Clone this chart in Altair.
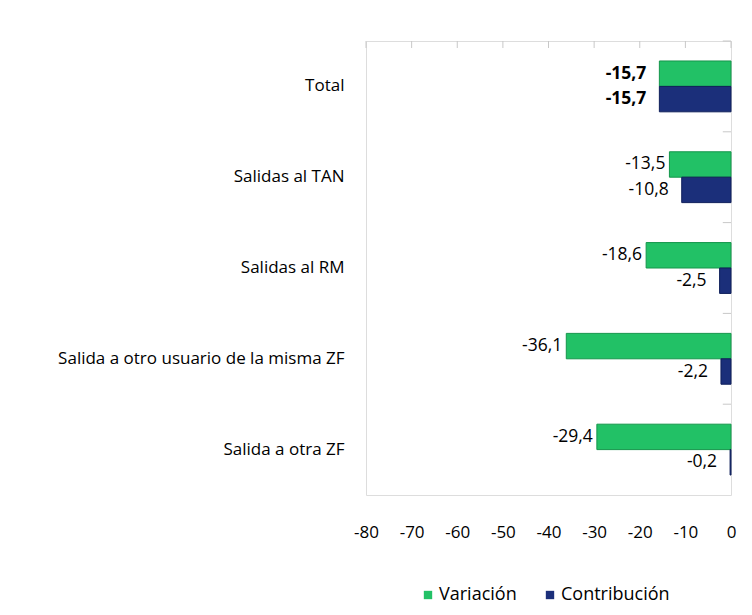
import altair as alt
import pandas as pd

categories = ["Total", "Salidas al TAN", "Salidas al RM",
              "Salida a otro usuario de la misma ZF", "Salida a otra ZF"]
variacion = [-15.7, -13.5, -18.6, -36.1, -29.4]
contribucion = [-15.7, -10.8, -2.5, -2.2, -0.2]
series = ["Variación", "Contribución"]
x_ticks = [-80, -70, -60, -50, -40, -30, -20, -10, 0]

rows = []
for c, v, k in zip(categories, variacion, contribucion):
    for s, val in zip(series, [v, k]):
        rows.append({"cat": c, "serie": s, "valor": val,
                     "label": f"{val:.1f}".replace(".", ",")})
df = pd.DataFrame(rows)
df_ticks = pd.DataFrame({"t": x_ticks})
df_cats = pd.DataFrame({"cat": categories})

FONT = "Open Sans"
FS_AX = 17
FS_LAB = 17.5
FS_LEG = 18
PAD_IN = 0.44
W, H = 365, 454
xscale = alt.Scale(domain=[-80, 0], nice=False)
yscale = alt.Scale(domain=categories, paddingInner=PAD_IN, paddingOuter=PAD_IN / 2)

base = alt.Chart(df)

bars = base.mark_bar(strokeWidth=1).encode(
    x=alt.X("valor:Q", scale=xscale,
            axis=alt.Axis(orient="bottom", values=x_ticks, title=None, grid=False,
                          ticks=False, domain=False, labelPadding=29,
                          labelFlush=False, labelBound=False, labelOverlap=False,
                          labelExpr="toString(datum.value)",
                          labelFontSize=FS_AX, labelFont=FONT, labelColor="#000")),
    y=alt.Y("cat:N", scale=yscale, sort=categories,
            axis=alt.Axis(title=None, ticks=False, domain=False, labelPadding=22,
                          labelFontSize=FS_AX, labelFont=FONT, labelColor="#000",
                          labelLimit=400)),
    yOffset=alt.YOffset("serie:N", sort=series),
    color=alt.Color("serie:N", sort=series,
                    scale=alt.Scale(domain=series, range=["#22C166", "#1B2F7A"]),
                    legend=alt.Legend(orient="none", legendX=53, legendY=545,
                                      direction="horizontal", title=None,
                                      symbolType="square", symbolSize=70,
                                      labelFontSize=FS_LEG, labelFont=FONT, labelColor="#000",
                                      labelOffset=2, columnPadding=24,
                                      symbolStrokeWidth=0)),
    stroke=alt.Stroke("serie:N", sort=series,
                      scale=alt.Scale(domain=series, range=["#14964B", "#0F1F5A"]),
                      legend=None),
)

# small tick marks along the top edge of the frame
top_ticks = alt.Chart(df_ticks).mark_rule(color="#C8C8C8", strokeWidth=1).encode(
    x=alt.X("t:Q", scale=xscale),
    y=alt.value(0),
    y2=alt.value(7),
)

# small tick marks on the zero line, between categories
half_gap = (PAD_IN / 2) * H / len(categories)
right_ticks = alt.Chart(df_cats).mark_rule(
    color="#C8C8C8", strokeWidth=1, yOffset=-half_gap).encode(
    y=alt.Y("cat:N", scale=yscale, sort=categories, bandPosition=0),
    x=alt.datum(-1.8),
    x2=alt.datum(0),
)

lab_var = base.transform_filter(
    (alt.datum.cat != "Total") & (alt.datum.serie == "Variación")).mark_text(
    align="right", baseline="middle", dx=-4,
    fontSize=FS_LAB, font=FONT, color="#000").encode(
    x=alt.X("valor:Q", scale=xscale),
    y=alt.Y("cat:N", scale=yscale, sort=categories),
    yOffset=alt.YOffset("serie:N", sort=series),
    text="label:N",
)

lab_con = base.transform_filter(
    (alt.datum.cat != "Total") & (alt.datum.serie == "Contribución")).mark_text(
    align="right", baseline="middle", dx=-13,
    fontSize=FS_LAB, font=FONT, color="#000").encode(
    x=alt.X("valor:Q", scale=xscale),
    y=alt.Y("cat:N", scale=yscale, sort=categories),
    yOffset=alt.YOffset("serie:N", sort=series),
    text="label:N",
)

lab_total = base.transform_filter(alt.datum.cat == "Total").mark_text(
    align="right", baseline="middle", dx=-13, fontWeight="bold",
    fontSize=FS_LAB, font=FONT, color="#000").encode(
    x=alt.X("valor:Q", scale=xscale),
    y=alt.Y("cat:N", scale=yscale, sort=categories),
    yOffset=alt.YOffset("serie:N", sort=series),
    text="label:N",
)

chart = alt.layer(bars, top_ticks, right_ticks, lab_var, lab_con, lab_total).properties(
    width=W, height=H,
    autosize="none",
    padding={"top": 33, "left": 358, "right": 13, "bottom": 112},
).configure_view(stroke="#D9D9D9", strokeWidth=1.5).configure(background="white")

chart.save("out.html", embed_options={"renderer": "svg", "actions": False})
